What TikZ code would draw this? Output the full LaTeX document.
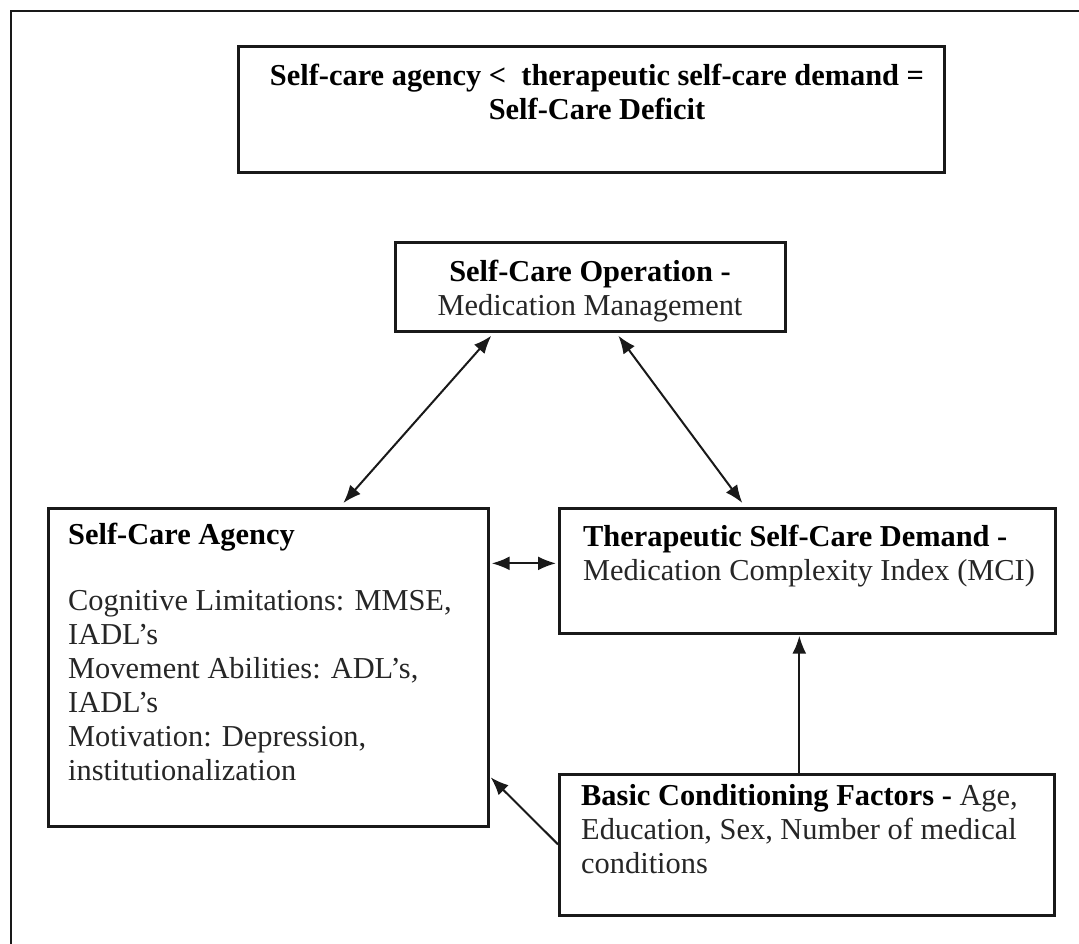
\documentclass[tikz,border=0pt]{standalone}
\usepackage{fontspec}
\setmainfont{Liberation Serif}
\usetikzlibrary{arrows.meta}
\begin{document}
\begin{tikzpicture}[x=1pt,y=-1pt,
  box/.style={draw=black!90, line width=2.7pt, rectangle, inner sep=0pt, anchor=north west},
  txt/.style={anchor=north west, inner sep=0pt, align=left,
    font=\fontsize{30.4}{34}\selectfont, text=black!85},
  ctxt/.style={txt, anchor=north, align=center},
  link/.style={line width=2pt, draw=black!90,
    {Latex[length=18pt,width=14pt]}-{Latex[length=18pt,width=14pt]}},
  feed/.style={line width=2pt, draw=black!90, -{Latex[length=18pt,width=14pt]}}]
\useasboundingbox (0,0) rectangle (1079,943);
\fill[white] (0,0) rectangle (1079,943);

% outer frame (only its top and left sides fall inside the page)
\draw[line width=2.7pt, black!90] (11,960) -- (11,11) -- (1090,11);

% boxes
\node[box, minimum width=706pt, minimum height=126pt] (def) at (237,45) {};
\node[box, minimum width=390pt, minimum height=89pt]  (op)  at (394,241) {};
\node[box, minimum width=440pt, minimum height=318pt] (ag)  at (47,507) {};
\node[box, minimum width=496pt, minimum height=125pt] (dm)  at (558,507) {};
\node[box, minimum width=495pt, minimum height=141pt] (bc)  at (558,773) {};

% texts
\node[ctxt, text=black] (deft) at (597,64)
  {\textbf{Self-care agency <\ \ therapeutic self-care demand =}\\
   \textbf{Self-Care Deficit}};
\node[ctxt] (opt) at (590,260)
  {\textbf{\color{black}Self-Care Operation -}\\ Medication Management};
\node[txt] (agt) at (68,523)
  {\textbf{\color{black}Self-Care Agency}\\[32pt]
   Cognitive Limitations: MMSE,\\ IADL's\\
   Movement Abilities: ADL's,\\ IADL's\\
   Motivation: Depression,\\ institutionalization};
\node[txt] (dmt) at (583,525)
  {\textbf{\color{black}Therapeutic Self-Care Demand -}\\
   Medication Complexity Index (MCI)};
\node[txt] (bct) at (581,784)
  {\textbf{\color{black}Basic Conditioning Factors -} Age,\\
   Education, Sex, Number of medical\\ conditions};

% connectors
\draw[link] ([xshift=-99pt,yshift=-3pt]op.south) -- ([xshift=75pt,yshift=4pt]ag.north);
\draw[link] ([xshift=28pt,yshift=-3pt]op.south) -- ([xshift=-65pt,yshift=4pt]dm.north);
\draw[link] ([xshift=2pt,yshift=104pt]ag.east) -- ([xshift=-2pt,yshift=7.5pt]dm.west);
\draw[feed] ([xshift=-7.5pt]bc.north) -- ([xshift=-8pt,yshift=-1pt]dm.south);
\draw[feed] ([yshift=0.5pt]bc.west) -- ([xshift=1pt,yshift=-110pt]ag.east);
\end{tikzpicture}
\end{document}
